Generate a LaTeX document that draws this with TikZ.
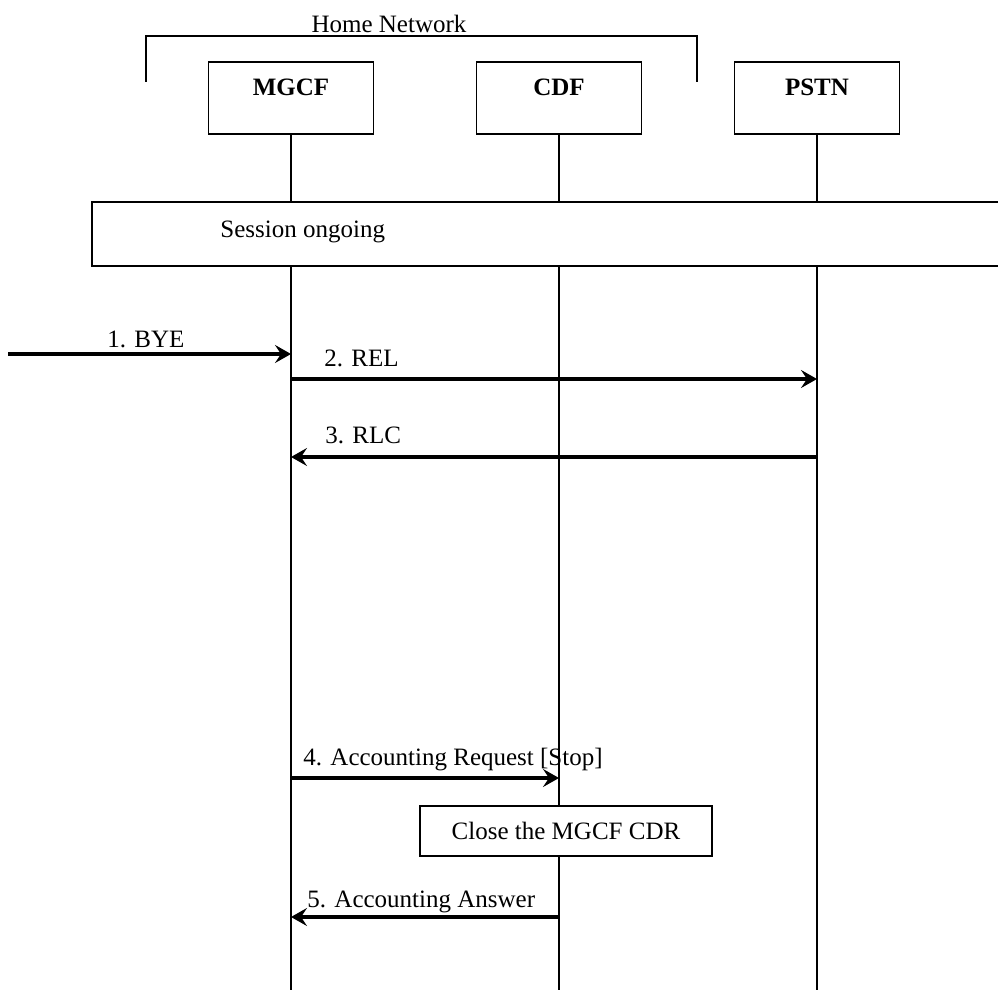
\documentclass[tikz,border=0pt]{standalone}
\usepackage{fontspec}
\setmainfont{Liberation Serif}
\usetikzlibrary{arrows.meta}

\tikzset{
	entity/.style={draw, line width=0.9pt, minimum width=82.5pt, inner sep=0pt, text height=17pt, text depth=19pt, font=\fontsize{12.5}{15}\selectfont\bfseries},
	msg/.style={line width=1.7pt, -{Stealth[length=8pt,width=9pt,inset=3pt]}},
	lbl/.style={anchor=base west, inner sep=0pt},
}

\begin{document}
\begin{tikzpicture}[x=0.5pt,y=-0.5pt,font=\fontsize{12.5}{15}\selectfont]
	\useasboundingbox (0,0) rectangle (998,990);
	\coordinate (bottom) at (0,990);

	\draw[line width=0.9pt] (146,82) -- (146,36) -- (697,36) -- (697,82);
	\node (home) [anchor=base, inner sep=0pt] at (389,33) {Home Network};

	\node (mgcf) [entity, anchor=north] at (291,61) {MGCF};
	\node (cdf) [entity, anchor=north] at (559,61) {CDF};
	\node (pstn) [entity, anchor=north] at (817,61) {PSTN};

	\foreach \n in {mgcf,cdf,pstn} {
		\draw[line width=0.8pt] (\n.south) -- (\n.south |- bottom);
	}

	\node (session) [draw, fill=white, line width=0.9pt, anchor=north west, minimum width=480pt, minimum height=32pt] at (91,201) {};
	\node (ongoing) [lbl] at (220,238) {Session ongoing};

	\coordinate (ext) at (8,354);
	\draw[msg] (ext) -- (ext -| mgcf);
	\node (bye) [lbl] at (107,348) {1. BYE};

	\coordinate (rel) at (mgcf |- 0,379);
	\draw[msg] (rel) -- (rel -| pstn);
	\node (rellbl) [lbl] at (324,366) {2. REL};

	\coordinate (rlc) at (pstn |- 0,457);
	\draw[msg] (rlc) -- (rlc -| mgcf);
	\node (rlclbl) [lbl] at (325,444) {3. RLC};

	\coordinate (acr) at (mgcf |- 0,778);
	\draw[msg] (acr) -- (acr -| cdf);
	\node (acrlbl) [lbl] at (303,765) {4. Accounting Request [Stop]};

	\node (close) [draw, fill=white, line width=0.9pt, minimum width=146pt, minimum height=25pt] at (566,831) {Close the MGCF CDR};

	\coordinate (aca) at (cdf |- 0,917);
	\draw[msg] (aca) -- (aca -| mgcf);
	\node (acalbl) [lbl] at (307,907) {5. Accounting Answer};
\end{tikzpicture}
\end{document}
